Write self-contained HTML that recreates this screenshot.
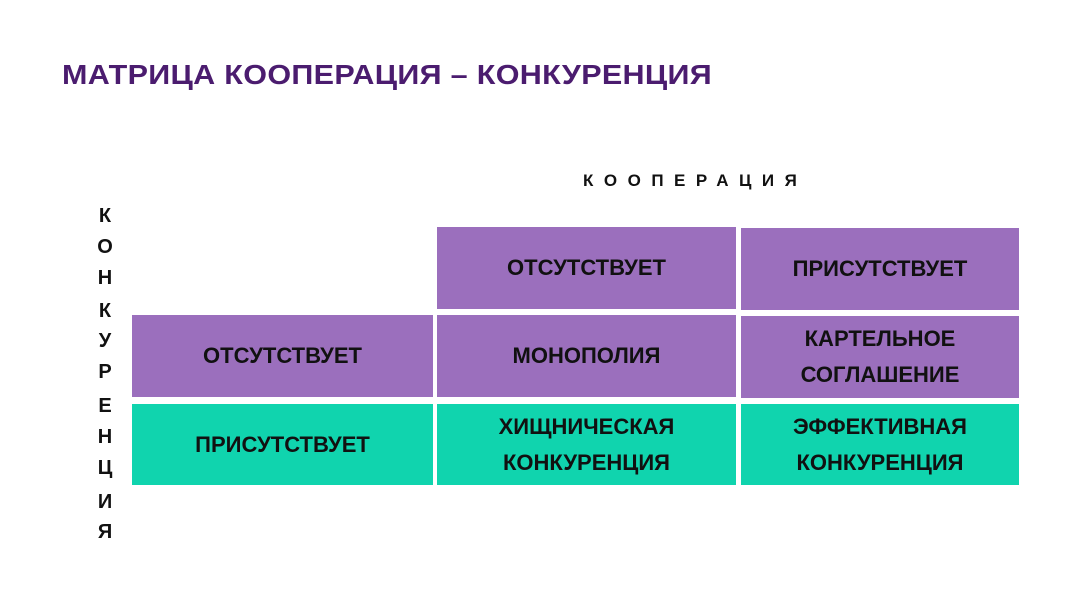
<!DOCTYPE html>
<html><head><meta charset="utf-8"><style>
body{margin:0;width:1080px;height:600px;background:#fff;position:relative;overflow:hidden;font-family:"Liberation Sans","Noto Sans CJK SC",sans-serif;font-weight:bold}
.t{position:absolute;left:62px;top:59px;font-size:28px;color:#4b1c6f;white-space:nowrap;letter-spacing:0.3px;transform:scaleX(1.09);transform-origin:left top}
.k{position:absolute;left:583px;top:171px;font-size:17px;letter-spacing:10.5px;color:#111;white-space:nowrap}
.v{position:absolute;left:92px;width:26px;text-align:center;font-size:20px;color:#111}
.c{position:absolute;display:flex;align-items:center;justify-content:center;text-align:center;font-size:22px;line-height:36px;color:#111}
.p{background:#9b6fbd}.g{background:#10d4ae}
</style></head><body>
<div class="t">МАТРИЦА КООПЕРАЦИЯ – КОНКУРЕНЦИЯ</div>
<div class="k">КООПЕРАЦИЯ</div>
<div class="v" style="top:205px">К</div>
<div class="v" style="top:236px">О</div>
<div class="v" style="top:267px">Н</div>
<div class="v" style="top:300px">К</div>
<div class="v" style="top:330px">У</div>
<div class="v" style="top:361px">Р</div>
<div class="v" style="top:395px">Е</div>
<div class="v" style="top:426px">Н</div>
<div class="v" style="top:457px">Ц</div>
<div class="v" style="top:491px">И</div>
<div class="v" style="top:521px">Я</div>
<div class="c p" style="left:437px;top:227px;width:299px;height:82px">ОТСУТСТВУЕТ</div>
<div class="c p" style="left:741px;top:228px;width:278px;height:82px">ПРИСУТСТВУЕТ</div>
<div class="c p" style="left:132px;top:315px;width:301px;height:82px">ОТСУТСТВУЕТ</div>
<div class="c p" style="left:437px;top:315px;width:299px;height:82px">МОНОПОЛИЯ</div>
<div class="c p" style="left:741px;top:316px;width:278px;height:82px">КАРТЕЛЬНОЕ<br>СОГЛАШЕНИЕ</div>
<div class="c g" style="left:132px;top:404px;width:301px;height:81px">ПРИСУТСТВУЕТ</div>
<div class="c g" style="left:437px;top:404px;width:299px;height:81px">ХИЩНИЧЕСКАЯ<br>КОНКУРЕНЦИЯ</div>
<div class="c g" style="left:741px;top:404px;width:278px;height:81px">ЭФФЕКТИВНАЯ<br>КОНКУРЕНЦИЯ</div>
</body></html>
